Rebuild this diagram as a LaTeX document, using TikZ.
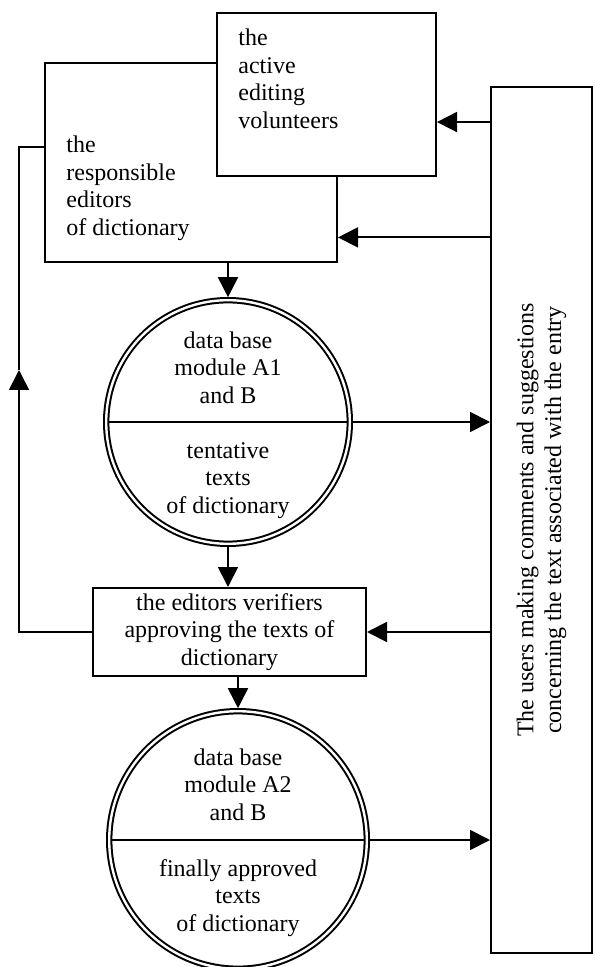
\documentclass[tikz,border=0pt]{standalone}
\usepackage{fontspec}
\setmainfont{Liberation Serif}
\usetikzlibrary{arrows.meta,positioning}

\begin{document}
\begin{tikzpicture}[x=0.5pt, y=-0.5pt,
    every node/.style={font=\fontsize{12}{13.8}\selectfont, inner sep=0pt},
    box/.style={draw, line width=1pt, align=center},
    db/.style={circle, draw, line width=1pt, double, double distance=1.2pt, outer sep=1.5pt},
    lbl/.style={align=left},
    arr/.style={line width=0.9pt, -{Triangle[length=10pt, width=10pt]}}]
  \useasboundingbox (0,0) rectangle (594,967);

  \node[box, minimum width=146pt, minimum height=99.5pt] (ed) at (191,162.5) {};
  \node[lbl, anchor=north west] (edtext) at (66,135.6) {the\\responsible\\editors\\of dictionary};
  \node[box, fill=white, minimum width=109.5pt, minimum height=81.5pt] (vol) at (326.5,94.5) {};
  \node[lbl, anchor=north west] (voltext) at (238,28.6) {the\\active\\editing\\volunteers};

  \node[db, minimum size=121.8pt] (c1) at (228,422) {};
  \node[align=center, above=9pt of c1.center] (c1a) {data base\\module A1\\and B};
  \node[align=center, below=10pt of c1.center] (c1b) {tentative\\texts\\of dictionary};
  \draw[line width=0.9pt] ([xshift=3.1pt]c1.west) -- ([xshift=-3.1pt]c1.east);

  \node[box, minimum width=136.5pt, minimum height=44pt] (ver) at (229.5,632) {the editors verifiers\\approving the texts of\\dictionary};

  \node[db, minimum size=128.8pt] (c2) at (238,840) {};
  \node[align=center, above=9.5pt of c2.center] (c2a) {data base\\module A2\\and B};
  \node[align=center, below=9.5pt of c2.center] (c2b) {finally approved\\texts\\of dictionary};
  \draw[line width=0.9pt] ([xshift=3.1pt]c2.west) -- ([xshift=-3.1pt]c2.east);

  \node[box, minimum width=50.5pt, minimum height=433pt] (users) at (541.5,520) {};
  \node[align=center, rotate=90] (utext) at (users.center) {The users making comments and suggestions\\concerning the text associated with the entry};

  % flows down the middle
  \draw[arr] (ed.south -| c1.north) -- (c1.north);
  \draw[arr] (c1.south) -- (ver.north -| c1.south);
  \draw[arr] (ver.south -| c2.north) -- (c2.north);

  % to and from the users
  \draw[arr] (c1.east) -- (c1.east -| users.west);
  \draw[arr] (c2.east) -- (c2.east -| users.west);
  \draw[arr] (users.west |- vol.-14) -- (vol.-14);
  \draw[arr] (users.west |- ed.-27) -- (ed.-27);
  \draw[arr] (users.west |- ver.east) -- (ver.east);

  % back to the editors
  \coordinate (back) at (19,370);
  \draw[arr] (ver.west) -| (back);
  \draw[line width=0.9pt] (back) |- (ed.174);
\end{tikzpicture}
\end{document}
